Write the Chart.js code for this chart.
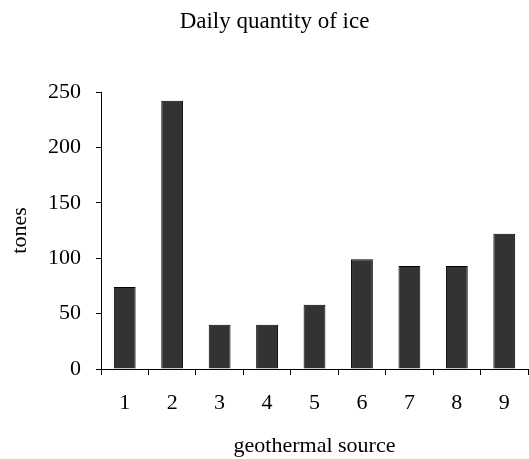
<!DOCTYPE html>
<html>
<head>
<meta charset="utf-8">
<script src="https://cdn.jsdelivr.net/npm/chart.js@4/dist/chart.umd.min.js"></script>
<style>
html,body{margin:0;padding:0;background:#fff;}
#wrap{width:529px;height:459px;}
</style>
</head>
<body>
<div id="wrap"><canvas id="c" width="529" height="459"></canvas></div>
<script>
const categories = ["1","2","3","4","5","6","7","8","9"];
const tones = [74, 242, 40, 40, 58, 99, 93, 93, 122];
const yTicks = [0, 50, 100, 150, 200, 250];
const chartTitle = "Daily quantity of ice";
const xTitle = "geothermal source";
const yTitle = "tones";

const FONT = "'Liberation Serif', 'Times New Roman', serif";

new Chart(document.getElementById('c'), {
  type: 'bar',
  data: {
    labels: categories,
    datasets: [{
      data: tones,
      backgroundColor: '#333333',
      borderColor: '#000000',
      borderWidth: 1,
      barPercentage: 0.46,
      categoryPercentage: 1.0
    }]
  },
  options: {
    responsive: false,
    animation: false,
    devicePixelRatio: 1,
    layout: { padding: { left: 21, right: 1, top: 0, bottom: 0 } },
    plugins: {
      legend: { display: false },
      tooltip: { enabled: false },
      title: {
        display: true,
        text: chartTitle,
        color: '#000',
        font: { family: FONT, size: 23, weight: 'normal', lineHeight: 1.2 },
        padding: { top: 8, bottom: 56.4 }
      }
    },
    scales: {
      x: {
        grid: { display: true, drawOnChartArea: false, offset: true, tickLength: 6, color: '#000', lineWidth: 1 },
        border: { display: true, color: '#000', width: 1 },
        ticks: { color: '#000', font: { family: FONT, size: 22 }, padding: 15, maxRotation: 0 },
        title: { display: true, text: xTitle, color: '#000', font: { family: FONT, size: 22 }, padding: { top: 10, bottom: 0 } },
        afterFit: s => { s.height = 90; }
      },
      y: {
        min: 0, max: 250,
        afterBuildTicks: s => { s.ticks = yTicks.map(v => ({ value: v })); },
        grid: { display: true, drawOnChartArea: false, tickLength: 5, color: '#000', lineWidth: 1 },
        border: { display: true, color: '#000', width: 1 },
        ticks: { color: '#000', font: { family: FONT, size: 22 }, padding: 15 },
        title: { display: true, text: yTitle, color: '#000', font: { family: FONT, size: 22 }, padding: { top: -14, bottom: 0 } },
        afterFit: s => { s.width = 80; }
      }
    }
  }
});
</script>
</body>
</html>
